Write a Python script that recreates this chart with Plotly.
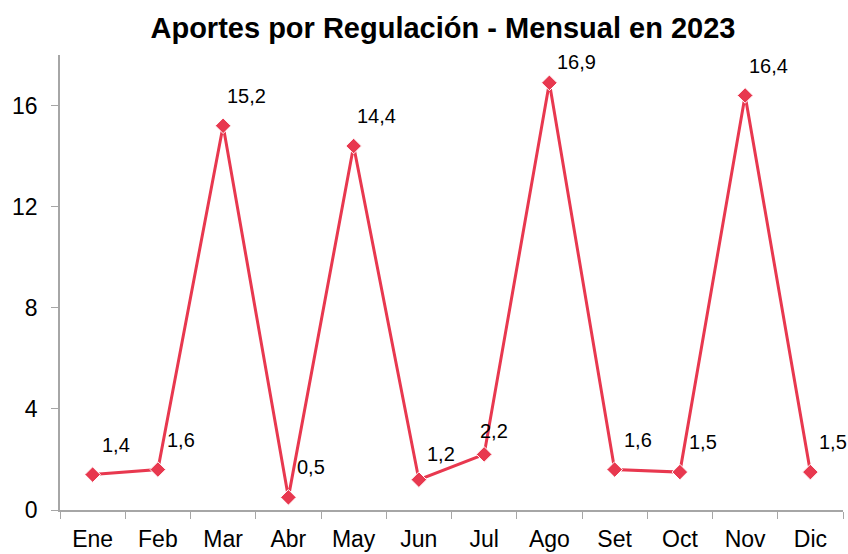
import plotly.graph_objects as go

meses = ["Ene", "Feb", "Mar", "Abr", "May", "Jun", "Jul", "Ago", "Set", "Oct", "Nov", "Dic"]
aportes = [1.4, 1.6, 15.2, 0.5, 14.4, 1.2, 2.2, 16.9, 1.6, 1.5, 16.4, 1.5]
etiquetas = [f"{v:.1f}".replace(".", ",") for v in aportes]

FONT = "Liberation Sans, Arial, sans-serif"
COLOR = "#E8384F"
AXIS = "#A6A6A6"

# label offsets (pixels) relative to each point; default above-right
default_shift = (23, 30)
special_shift = {"Jun": (22, 26), "Jul": (10, 23), "Ago": (27, 21), "Nov": (23, 29)}

fig = go.Figure()
fig.add_trace(go.Scatter(
    x=meses, y=aportes, mode="lines+markers",
    line=dict(color=COLOR, width=3),
    marker=dict(symbol="diamond", size=12, color=COLOR, line=dict(color="white", width=1)),
    hoverinfo="skip", showlegend=False,
))

for m, v, t in zip(meses, aportes, etiquetas):
    dx, dy = special_shift.get(m, default_shift)
    fig.add_annotation(x=m, y=v, text=t, showarrow=False, xshift=dx, yshift=dy,
                       font=dict(family=FONT, size=20, color="black"))

fig.update_layout(
    width=848, height=554,
    margin=dict(l=60, r=5, t=55, b=44, autoexpand=False),
    paper_bgcolor="white", plot_bgcolor="white",
    title=dict(text="<b>Aportes por Regulación - Mensual en 2023</b>", x=443 / 848, xanchor="center",
               y=1 - 28 / 554, yanchor="middle", font=dict(family=FONT, size=29, color="black")),
    font=dict(family=FONT, size=23, color="black"),
)
fig.update_xaxes(type="category", range=[-0.5, 11.5], tickson="boundaries", ticks="outside",
                 ticklen=7, tickcolor=AXIS, showline=True, linecolor=AXIS, linewidth=1.5,
                 showgrid=False, zeroline=False, tickfont=dict(family=FONT, size=23),
                 ticklabelstandoff=8)
fig.update_yaxes(range=[0, 18], tickvals=[0, 4, 8, 12, 16], ticks="outside", ticklen=7,
                 tickcolor=AXIS, showline=True, linecolor=AXIS, linewidth=1.5,
                 showgrid=False, zeroline=False, tickfont=dict(family=FONT, size=23),
                 ticklabelstandoff=9)

fig.write_html("out.html", config={"displayModeBar": False},
               post_script="document.body.style.margin='0';")
